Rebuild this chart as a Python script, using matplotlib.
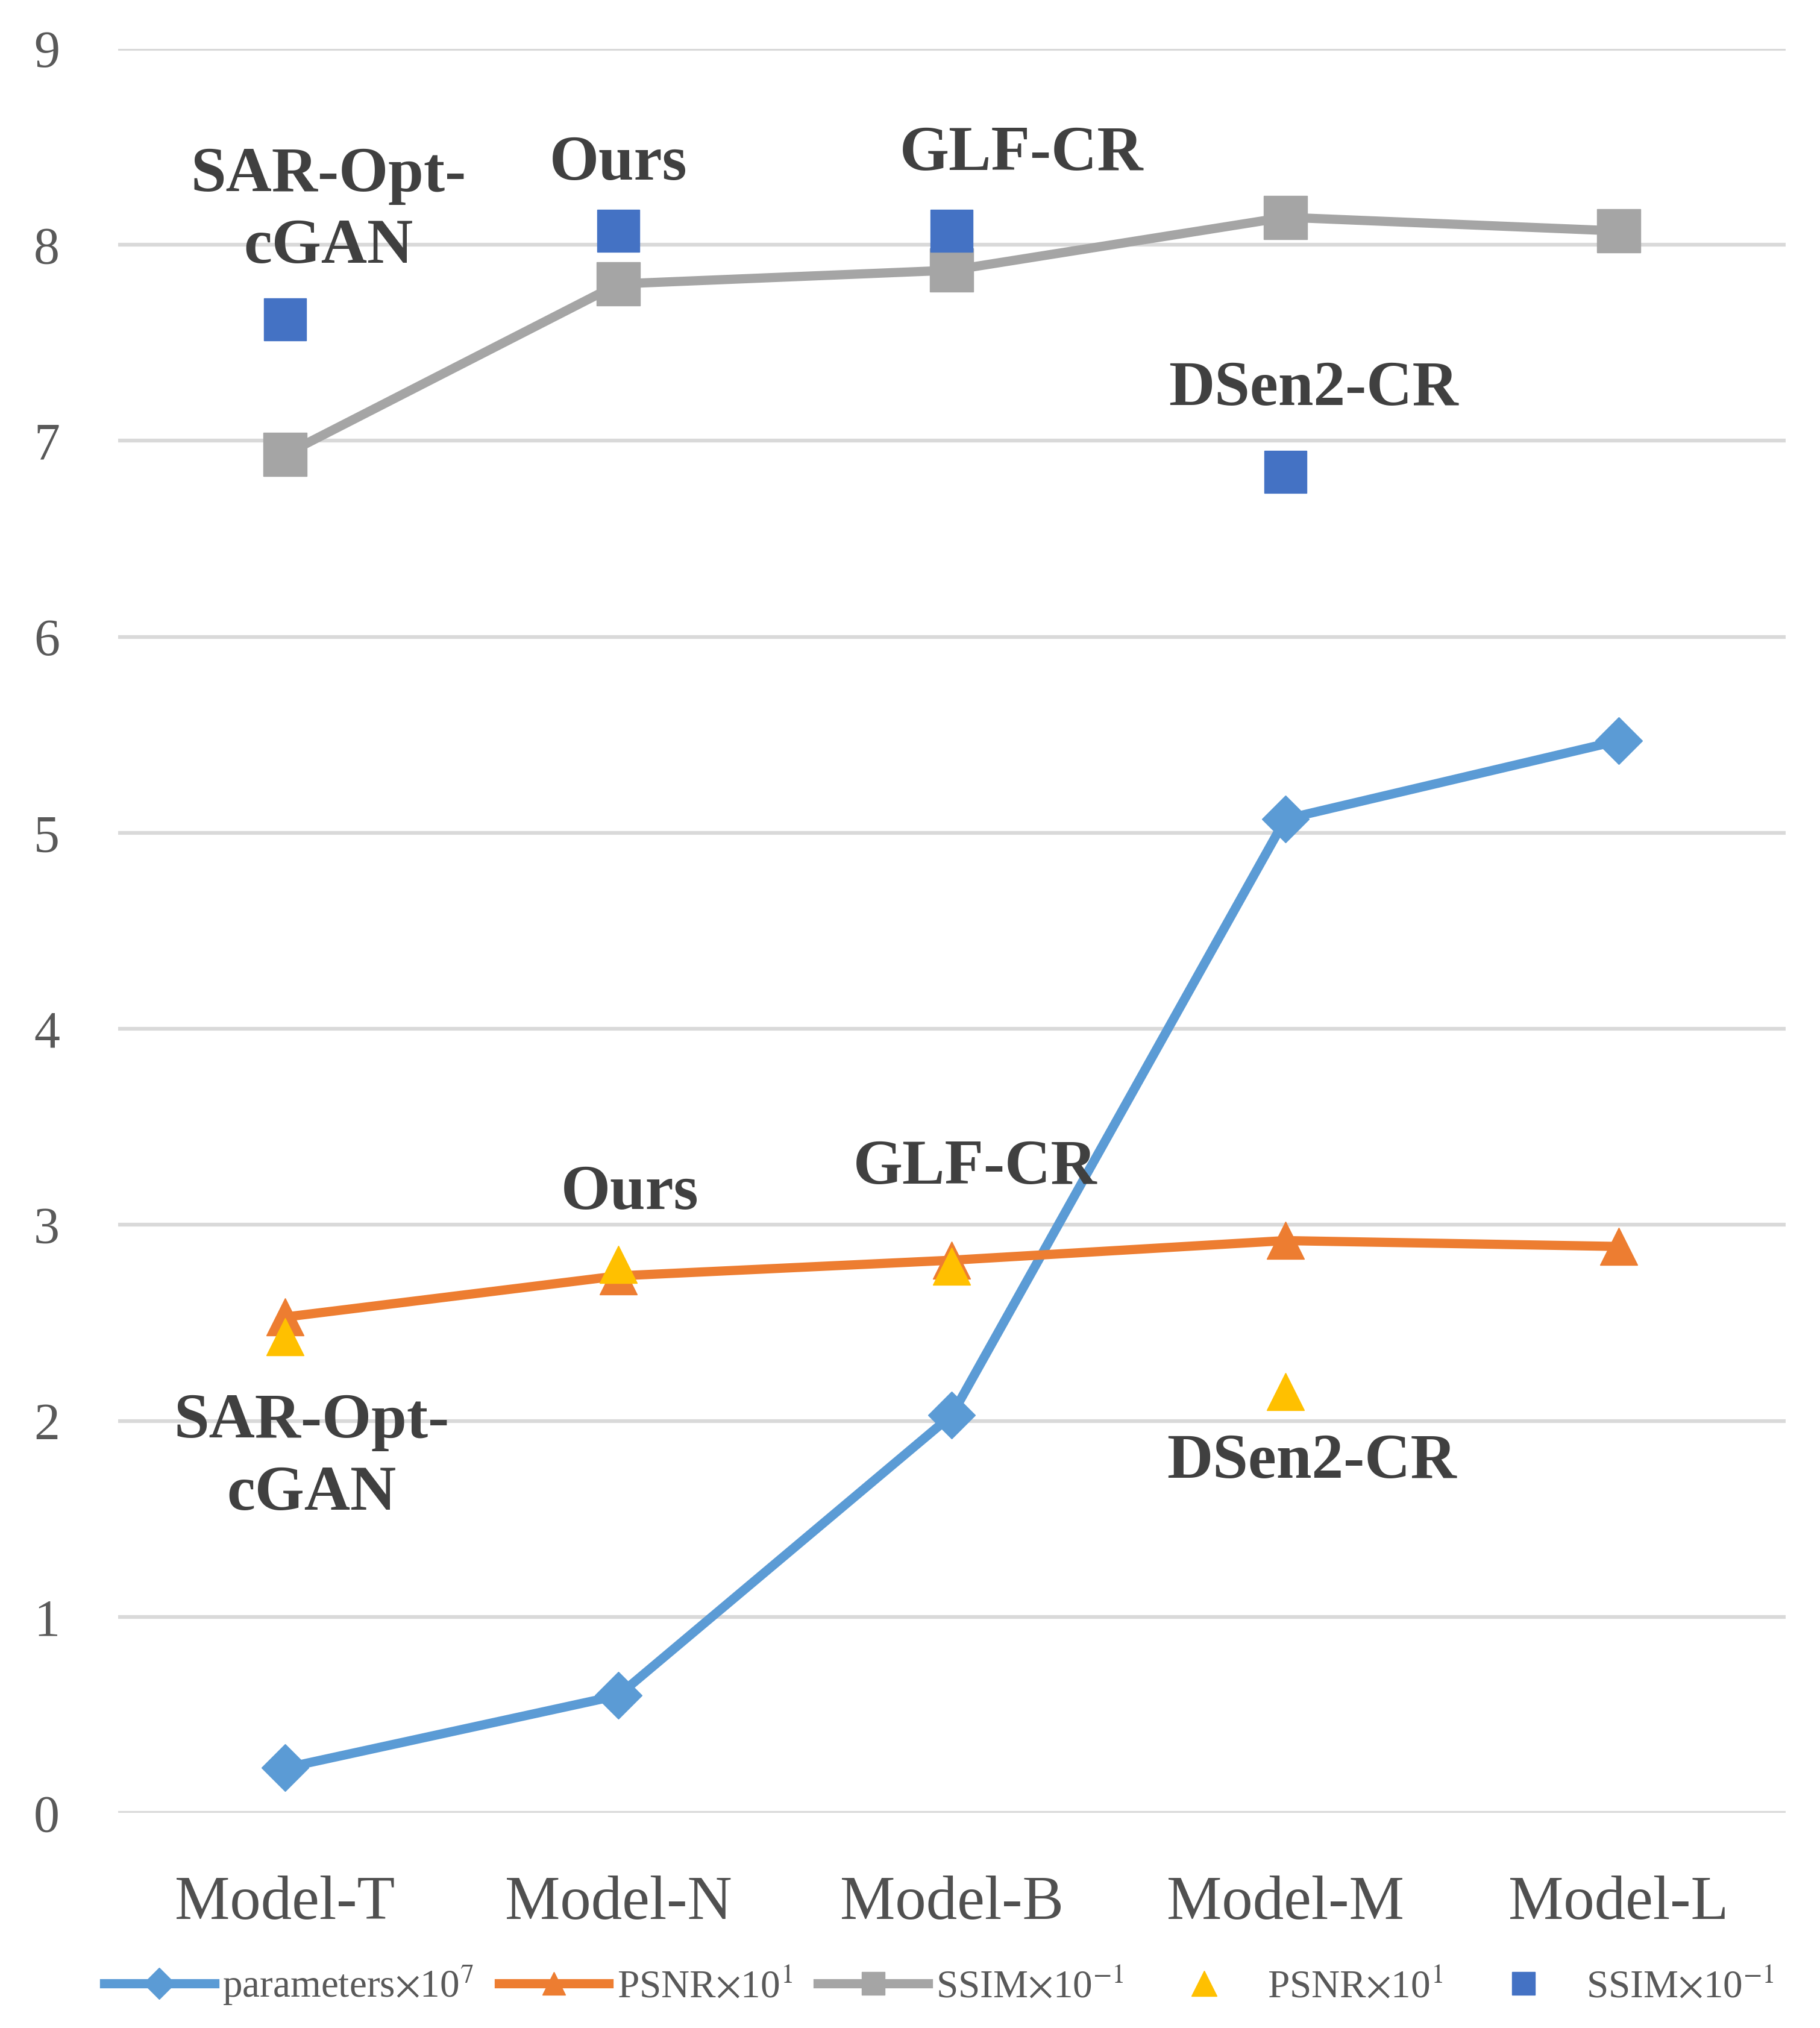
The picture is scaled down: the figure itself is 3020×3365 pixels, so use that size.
import matplotlib.pyplot as plt
from matplotlib.lines import Line2D

plt.rcParams['font.family'] = ['Liberation Serif', 'DejaVu Serif']
plt.rcParams['mathtext.fontset'] = 'stix'

models = ["Model-T", "Model-N", "Model-B", "Model-M", "Model-L"]
params = [0.23, 0.60, 2.03, 5.07, 5.47]
psnr = [2.53, 2.74, 2.82, 2.92, 2.89]
ssim = [6.93, 7.80, 7.87, 8.14, 8.07]

# other methods, placed on the first four model slots
other_names = ["SAR-Opt-\ncGAN", "Ours", "GLF-CR", "DSen2-CR"]
other_psnr = [2.43, 2.80, 2.79, 2.15]
other_ssim = [7.62, 8.07, 8.07, 6.84]

# label anchors (x, y) in data coords
ssim_label_pos = [(0.13, 8.17), (1.0, 8.41), (2.21, 8.46), (3.085, 7.26)]
psnr_label_pos = [(0.08, 1.81), (1.035, 3.16), (2.07, 3.29), (3.08, 1.79)]

c_blue = "#5B9BD5"
c_orange = "#ED7D31"
c_gray = "#A5A5A5"
c_yellow = "#FFC000"
c_dblue = "#4472C4"
txt = "#595959"


def main():
    fig = plt.figure(figsize=(30.2, 33.65), dpi=100)
    ax = fig.add_axes([0.065, 0.106, 0.916, 0.870])
    x = range(len(models))

    for y in range(10):
        ax.axhline(y, color="#D9D9D9", lw=4.5, zorder=0)

    ax.plot(x, params, color=c_blue, lw=11, marker="D", ms=40, zorder=3)
    ax.plot(x, psnr, color=c_orange, lw=11, marker="^", ms=44, zorder=3)
    ax.plot(x, ssim, color=c_gray, lw=11, marker="s", ms=52, zorder=3)
    xo = range(len(other_names))
    ax.plot(xo, other_psnr, ls="none", marker="^", ms=44, color=c_yellow, zorder=4)
    ax.plot(xo, other_ssim, ls="none", marker="s", ms=50, color=c_dblue, zorder=4)

    for name, (px, py) in zip(other_names, ssim_label_pos):
        ax.text(px, py, name, ha="center", va="center", fontsize=76,
                fontweight="bold", color="#404040", linespacing=1.3, zorder=5)
    for name, (px, py) in zip(other_names, psnr_label_pos):
        ax.text(px, py, name, ha="center", va="center", fontsize=76,
                fontweight="bold", color="#404040", linespacing=1.3, zorder=5)

    ax.set_xlim(-0.5, 4.5)
    ax.set_ylim(0, 9)
    ax.set_yticks(range(10))
    ax.set_xticks(list(x))
    ax.set_xticklabels(models, fontsize=74, color="#505050")
    ax.tick_params(axis="y", labelsize=62, labelcolor=txt, length=0, pad=70)
    ax.tick_params(axis="x", length=0, pad=75)
    for s in ax.spines.values():
        s.set_visible(False)

    handles = [
        Line2D([], [], color=c_blue, lw=11, marker="D", ms=26),
        Line2D([], [], color=c_orange, lw=11, marker="^", ms=28),
        Line2D([], [], color=c_gray, lw=11, marker="s", ms=28),
        Line2D([], [], ls="none", color=c_yellow, marker="^", ms=30),
        Line2D([], [], ls="none", color=c_dblue, marker="s", ms=28),
    ]
    labels = [r"parameters$\times$10$^{7}$", r"PSNR$\times$10$^{1}$",
              r"SSIM$\times$10$^{-1}$", r"PSNR$\times$10$^{1}$",
              r"SSIM$\times$10$^{-1}$"]
    fig.legend(handles, labels, loc="center", bbox_to_anchor=(0.516, 0.021),
               ncol=5, frameon=False, fontsize=47, handlelength=2.8,
               handletextpad=0.2, columnspacing=0.65, labelcolor=txt)

    fig.savefig("out.png")


if __name__ == '__main__':
    main()
